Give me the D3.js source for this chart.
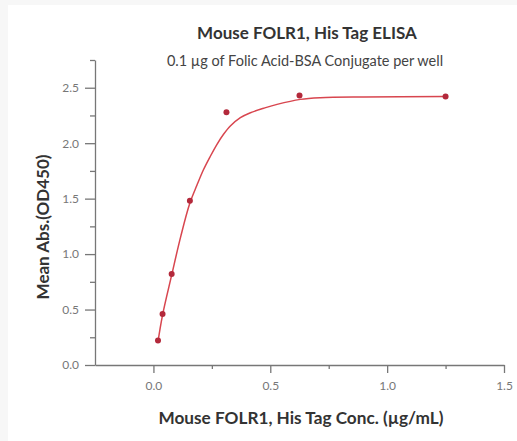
<!DOCTYPE html>
<html>
<head>
<meta charset="utf-8">
<script src="https://cdn.jsdelivr.net/npm/d3@7"></script>
<style>
  body { margin: 0; background: #f7f7f7; }
</style>
</head>
<body>
<div id="chart"></div>
<script>
// measured points (conc in ug/mL, OD450)
var conc = [0.0195, 0.039, 0.078, 0.156, 0.3125, 0.625, 1.25];
var od = [0.22, 0.46, 0.82, 1.48, 2.28, 2.43, 2.42];

// fitted curve
var fitConc = [0.0195, 0.039, 0.078, 0.117, 0.156, 0.186, 0.214, 0.243, 0.272, 0.300, 0.329, 0.372, 0.415, 0.472, 0.529, 0.629, 0.714, 0.90, 1.25];
var fitOd = [0.21, 0.45, 0.81, 1.16, 1.46, 1.62, 1.76, 1.88, 1.99, 2.08, 2.155, 2.23, 2.275, 2.315, 2.35, 2.395, 2.41, 2.417, 2.42];

var xMajor = [0, 0.5, 1.0, 1.5];
var xMinor = [0.25, 0.75, 1.25];
var yMajor = [0, 0.5, 1.0, 1.5, 2.0, 2.5];
var yMinor = [0.25, 0.75, 1.25, 1.75, 2.25, 2.75];

var width = 517, height = 441;
var curveColor = "#d8464f";
var dotColor = "#b3293b";
var axisColor = "#777";

var svg = d3.select('#chart').append('svg')
    .attr('width', width)
    .attr('height', height);

// white panel, light grey strip on left and top
svg.append('rect')
    .attr('x', 8).attr('y', 5)
    .attr('width', width - 8).attr('height', height - 5)
    .attr('fill', 'white');

var x = d3.scaleLinear().domain([-0.25, 1.5]).range([95, 504]);
var y = d3.scaleLinear().domain([0, 2.75]).range([365, 60]);

// x axis
var gx = svg.append('g').attr('transform', 'translate(0,' + y(0) + ')');
gx.call(d3.axisBottom(x).tickValues(xMajor).tickSize(8).tickSizeOuter(0).tickPadding(8)
    .tickFormat(d3.format('.1f')));
var gxm = svg.append('g').attr('transform', 'translate(0,' + y(0) + ')');
gxm.call(d3.axisBottom(x).tickValues(xMinor).tickSize(4).tickFormat(''));
gxm.select('.domain').remove();

// y axis
var gy = svg.append('g').attr('transform', 'translate(' + x(-0.25) + ',0)');
gy.call(d3.axisLeft(y).tickValues(yMajor).tickSize(10).tickSizeOuter(0).tickPadding(6)
    .tickFormat(d3.format('.1f')));
var gym = svg.append('g').attr('transform', 'translate(' + x(-0.25) + ',0)');
gym.call(d3.axisLeft(y).tickValues(yMinor).tickSize(5).tickFormat(''));
gym.select('.domain').remove();

svg.selectAll('.domain, .tick line')
    .attr('stroke', axisColor)
    .attr('stroke-width', 1.3);
svg.selectAll('.tick text')
    .attr('fill', '#777')
    .attr('font-family', 'Lato, sans-serif')
    .attr('font-size', '12px');

// fitted curve
var line = d3.line()
    .x(function(d) { return x(d[0]); })
    .y(function(d) { return y(d[1]); })
    .curve(d3.curveCatmullRom.alpha(0.5));

svg.append('path')
    .datum(d3.zip(fitConc, fitOd))
    .attr('d', line)
    .attr('fill', 'none')
    .attr('stroke', curveColor)
    .attr('stroke-width', 1.5);

// data points
svg.selectAll('.dot')
    .data(d3.zip(conc, od))
    .enter()
    .append('circle')
    .attr('class', 'dot')
    .attr('cx', function(d) { return x(d[0]); })
    .attr('cy', function(d) { return y(d[1]); })
    .attr('r', 3)
    .attr('fill', dotColor);

// titles
svg.append('text')
    .attr('x', 307).attr('y', 39)
    .attr('text-anchor', 'middle')
    .attr('font-family', 'Lato, sans-serif')
    .attr('font-weight', 'bold')
    .attr('font-size', '17px')
    .attr('fill', '#333')
    .text('Mouse FOLR1, His Tag ELISA');

svg.append('text')
    .attr('x', 305).attr('y', 66)
    .attr('text-anchor', 'middle')
    .attr('font-family', 'Lato, sans-serif')
    .attr('font-size', '14.5px')
    .attr('fill', '#444')
    .text('0.1 µg of Folic Acid-BSA Conjugate per well');

svg.append('text')
    .attr('x', 301).attr('y', 424)
    .attr('text-anchor', 'middle')
    .attr('font-family', 'Lato, sans-serif')
    .attr('font-weight', 'bold')
    .attr('font-size', '17.2px')
    .attr('fill', '#333')
    .text('Mouse FOLR1, His Tag Conc. (µg/mL)');

svg.append('text')
    .attr('transform', 'translate(49,227) rotate(-90)')
    .attr('text-anchor', 'middle')
    .attr('font-family', 'Lato, sans-serif')
    .attr('font-weight', 'bold')
    .attr('font-size', '17px')
    .attr('fill', '#333')
    .text('Mean Abs.(OD450)');
</script>
</body>
</html>
